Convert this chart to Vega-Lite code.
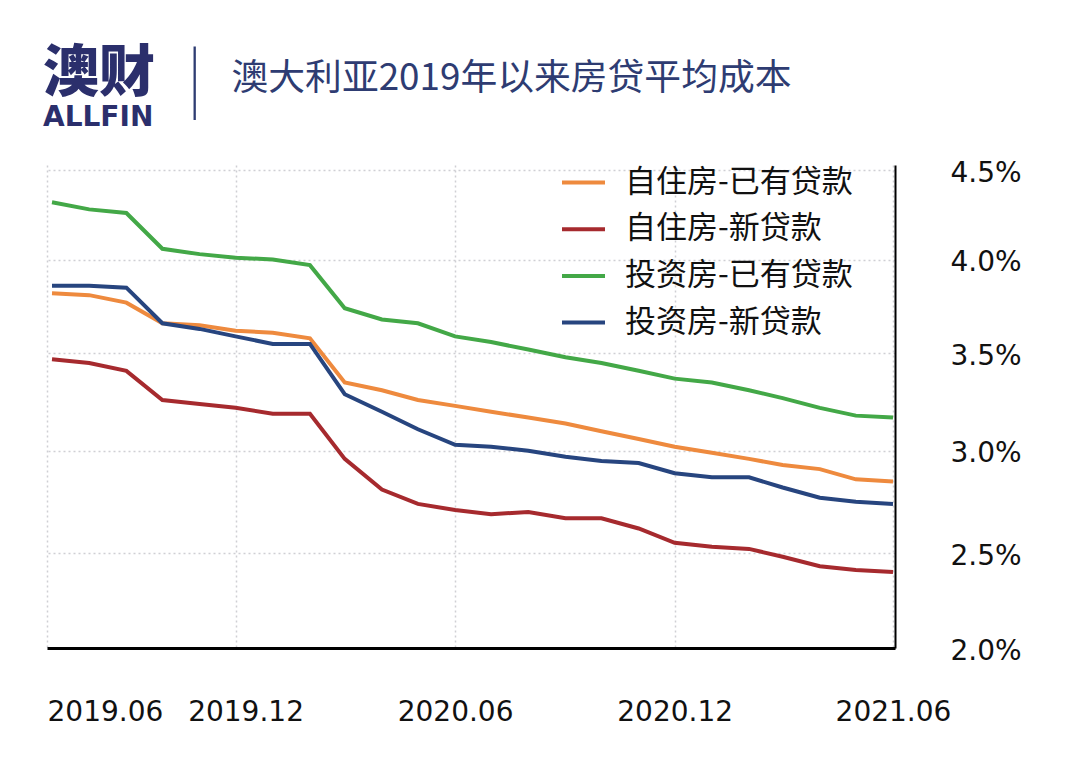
{
  "$schema": "https://vega.github.io/schema/vega-lite/v6.json",
  "width": 848,
  "height": 483,
  "autosize": {"type": "none"},
  "padding": {"left": 47, "top": 165, "right": 185, "bottom": 118},
  "background": "#ffffff",
  "config": {"view": {"stroke": null}},
  "title": {
    "text": "澳财",
    "subtitle": "ALLFIN",
    "anchor": "start",
    "frame": "group",
    "orient": "top",
    "dx": -4,
    "offset": -96,
    "font": "Noto Sans CJK SC",
    "fontSize": 56,
    "fontWeight": 900,
    "color": "#2b2f6c",
    "subtitleFont": "DejaVu Sans",
    "subtitleFontSize": 28,
    "subtitleFontWeight": "bold",
    "subtitleColor": "#2b2f6c",
    "subtitlePadding": 1
  },
  "data": {
    "values": [
      {"month": "2019-07-01", "自住房-已有贷款": 3.82, "自住房-新贷款": 3.47, "投资房-已有贷款": 4.32, "投资房-新贷款": 3.86},
      {"month": "2019-08-01", "自住房-已有贷款": 3.81, "自住房-新贷款": 3.45, "投资房-已有贷款": 4.28, "投资房-新贷款": 3.86},
      {"month": "2019-09-01", "自住房-已有贷款": 3.77, "自住房-新贷款": 3.41, "投资房-已有贷款": 4.26, "投资房-新贷款": 3.85},
      {"month": "2019-10-01", "自住房-已有贷款": 3.66, "自住房-新贷款": 3.26, "投资房-已有贷款": 4.06, "投资房-新贷款": 3.66},
      {"month": "2019-11-01", "自住房-已有贷款": 3.65, "自住房-新贷款": 3.24, "投资房-已有贷款": 4.03, "投资房-新贷款": 3.63},
      {"month": "2019-12-01", "自住房-已有贷款": 3.62, "自住房-新贷款": 3.22, "投资房-已有贷款": 4.01, "投资房-新贷款": 3.59},
      {"month": "2020-01-01", "自住房-已有贷款": 3.61, "自住房-新贷款": 3.19, "投资房-已有贷款": 4.00, "投资房-新贷款": 3.55},
      {"month": "2020-02-01", "自住房-已有贷款": 3.58, "自住房-新贷款": 3.19, "投资房-已有贷款": 3.97, "投资房-新贷款": 3.55},
      {"month": "2020-03-01", "自住房-已有贷款": 3.35, "自住房-新贷款": 2.96, "投资房-已有贷款": 3.74, "投资房-新贷款": 3.29},
      {"month": "2020-04-01", "自住房-已有贷款": 3.31, "自住房-新贷款": 2.81, "投资房-已有贷款": 3.68, "投资房-新贷款": 3.20},
      {"month": "2020-05-01", "自住房-已有贷款": 3.26, "自住房-新贷款": 2.74, "投资房-已有贷款": 3.66, "投资房-新贷款": 3.11},
      {"month": "2020-06-01", "自住房-已有贷款": 3.23, "自住房-新贷款": 2.71, "投资房-已有贷款": 3.59, "投资房-新贷款": 3.03},
      {"month": "2020-07-01", "自住房-已有贷款": 3.20, "自住房-新贷款": 2.69, "投资房-已有贷款": 3.56, "投资房-新贷款": 3.02},
      {"month": "2020-08-01", "自住房-已有贷款": 3.17, "自住房-新贷款": 2.70, "投资房-已有贷款": 3.52, "投资房-新贷款": 3.00},
      {"month": "2020-09-01", "自住房-已有贷款": 3.14, "自住房-新贷款": 2.67, "投资房-已有贷款": 3.48, "投资房-新贷款": 2.97},
      {"month": "2020-10-01", "自住房-已有贷款": 3.10, "自住房-新贷款": 2.67, "投资房-已有贷款": 3.45, "投资房-新贷款": 2.95},
      {"month": "2020-11-01", "自住房-已有贷款": 3.06, "自住房-新贷款": 2.62, "投资房-已有贷款": 3.41, "投资房-新贷款": 2.94},
      {"month": "2020-12-01", "自住房-已有贷款": 3.02, "自住房-新贷款": 2.55, "投资房-已有贷款": 3.37, "投资房-新贷款": 2.89},
      {"month": "2021-01-01", "自住房-已有贷款": 2.99, "自住房-新贷款": 2.53, "投资房-已有贷款": 3.35, "投资房-新贷款": 2.87},
      {"month": "2021-02-01", "自住房-已有贷款": 2.96, "自住房-新贷款": 2.52, "投资房-已有贷款": 3.31, "投资房-新贷款": 2.87},
      {"month": "2021-03-01", "自住房-已有贷款": 2.93, "自住房-新贷款": 2.48, "投资房-已有贷款": 3.27, "投资房-新贷款": 2.82},
      {"month": "2021-04-01", "自住房-已有贷款": 2.91, "自住房-新贷款": 2.43, "投资房-已有贷款": 3.22, "投资房-新贷款": 2.77},
      {"month": "2021-05-01", "自住房-已有贷款": 2.86, "自住房-新贷款": 2.41, "投资房-已有贷款": 3.18, "投资房-新贷款": 2.75},
      {"month": "2021-06-01", "自住房-已有贷款": 2.85, "自住房-新贷款": 2.40, "投资房-已有贷款": 3.17, "投资房-新贷款": 2.74}
    ]
  },
  "transform": [
    {"fold": ["自住房-已有贷款", "自住房-新贷款", "投资房-已有贷款", "投资房-新贷款"], "as": ["type", "rate"]}
  ],
  "mark": {"type": "line", "strokeWidth": 4, "clip": false},
  "encoding": {
    "x": {
      "field": "month",
      "type": "temporal",
      "scale": {
        "type": "utc",
        "domain": [
          {"year": 2019, "month": 6, "date": 26, "hours": 20, "utc": true},
          {"year": 2021, "month": 6, "date": 2, "hours": 16, "utc": true}
        ]
      },
      "axis": {
        "values": [
          {"year": 2019, "month": 6, "date": 26, "hours": 20, "utc": true},
          {"year": 2019, "month": 12, "date": 1, "utc": true},
          {"year": 2020, "month": 6, "date": 1, "utc": true},
          {"year": 2020, "month": 12, "date": 1, "utc": true},
          {"year": 2021, "month": 6, "date": 1, "utc": true}
        ],
        "labelExpr": "utcFormat(datum.value, '%Y.%m')",
        "grid": true,
        "gridColor": "#cfcfd4",
        "gridDash": [2, 3],
        "gridWidth": 1.5,
        "domain": true,
        "domainColor": "#000000",
        "domainWidth": 3,
        "ticks": false,
        "labelPadding": 50,
        "labelFont": "DejaVu Sans",
        "labelFontSize": 28,
        "labelColor": "#111111",
        "labelBaseline": "top",
        "labelFlush": false,
        "labelOverlap": false,
        "labelAlign": {"condition": {"test": "datum.index == 0", "value": "left"}, "value": "center"},
        "labelOffset": {"condition": {"test": "datum.index == 0.25", "value": 10}, "value": 0},
        "title": "|",
        "titleFont": "Roboto",
        "titleFontWeight": 100,
        "titleFontSize": 88,
        "titleColor": "#2e3c72",
        "titleAngle": 0,
        "titleAlign": "center",
        "titleBaseline": "middle",
        "titleX": 147,
        "titleY": -567
      }
    },
    "y": {
      "field": "rate",
      "type": "quantitative",
      "scale": {
        "domain": [2.0, 2.5, 3.0, 3.5, 4.0, 4.5, 4.53],
        "range": [483, 388, 285.7, 188.3, 94.5, 5, 0],
        "nice": false,
        "zero": false
      },
      "axis": {
        "orient": "right",
        "values": [2.0, 2.5, 3.0, 3.5, 4.0, 4.5],
        "labelExpr": "format(datum.value, '.1f') + '%'",
        "grid": true,
        "gridColor": "#cfcfd4",
        "gridDash": [2, 3],
        "gridWidth": 1.5,
        "domain": true,
        "domainColor": "#000000",
        "domainWidth": 2,
        "ticks": false,
        "labelPadding": 55,
        "labelFont": "DejaVu Sans",
        "labelFontSize": 28,
        "labelColor": "#111111",
        "labelAlign": "left",
        "labelBaseline": "middle",
        "labelOffset": 3,
        "labelOverlap": false,
        "labelFlush": false,
        "title": "澳大利亚2019年以来房贷平均成本",
        "titleFont": "Noto Sans CJK SC",
        "titleFontSize": 36.8,
        "titleFontWeight": "normal",
        "titleColor": "#2e3c72",
        "titleAngle": 0,
        "titleAlign": "left",
        "titleBaseline": "middle",
        "titleX": -664,
        "titleY": -87
      }
    },
    "color": {
      "field": "type",
      "type": "nominal",
      "scale": {
        "domain": ["自住房-已有贷款", "自住房-新贷款", "投资房-已有贷款", "投资房-新贷款"],
        "range": ["#ee8a3e", "#a62a2e", "#43a847", "#27457f"]
      },
      "legend": {
        "orient": "none",
        "legendX": 513,
        "legendY": -6,
        "title": null,
        "padding": 0,
        "symbolType": "stroke",
        "symbolSize": 1849,
        "symbolStrokeWidth": 4,
        "labelFont": "Noto Sans CJK SC",
        "labelFontSize": 31,
        "labelColor": "#111111",
        "labelOffset": 18,
        "rowPadding": 7.7,
        "labelLimit": 400
      }
    }
  }
}
